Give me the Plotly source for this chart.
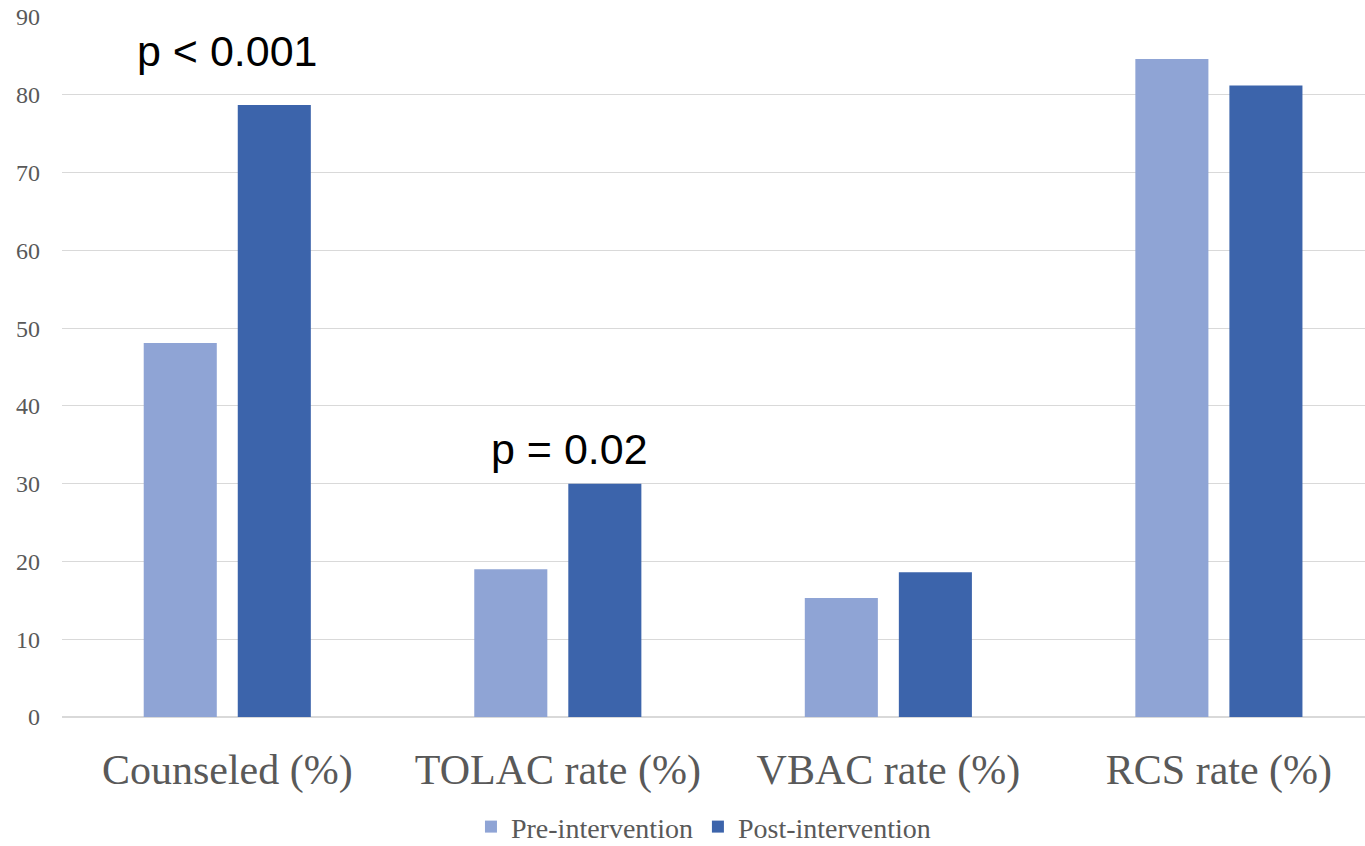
import plotly.graph_objects as go

categories = ["Counseled (%)", "TOLAC rate (%)", "VBAC rate (%)", "RCS rate (%)"]
pre_values = [48.1, 19.0, 15.3, 84.6]
post_values = [78.7, 30.0, 18.6, 81.2]
series_names = ["Pre-intervention", "Post-intervention"]
y_ticks = [0, 10, 20, 30, 40, 50, 60, 70, 80, 90]

fig = go.Figure()
fig.add_trace(go.Bar(x=categories, y=pre_values, name=series_names[0],
                     marker=dict(color="#8FA4D5", line=dict(width=0))))
fig.add_trace(go.Bar(x=categories, y=post_values, name=series_names[1],
                     marker=dict(color="#3C64AB", line=dict(width=0))))

fig.add_annotation(x=categories[0], y=85.6, text="p < 0.001", showarrow=False,
                   font=dict(family="Liberation Sans", size=43, color="#000000"), xshift=0)
fig.add_annotation(x=categories[1], y=34.4, text="p = 0.02", showarrow=False,
                   font=dict(family="Liberation Sans", size=43, color="#000000"), xshift=12)

fig.update_layout(
    width=1365, height=846,
    margin=dict(l=62, r=0, t=17, b=129, autoexpand=False),
    paper_bgcolor="white", plot_bgcolor="white",
    barmode="group", bargap=0.431, bargroupgap=0.223,
    font=dict(family="Liberation Serif", color="#595959"),
    xaxis=dict(tickfont=dict(size=42, color="#595959"), showline=False, ticks="",
               automargin=False, ticklabelstandoff=24, range=[-0.5, 3.442]),
    yaxis=dict(range=[0, 90], tickvals=y_ticks, gridcolor="#D9D9D9", gridwidth=1.3,
               zeroline=True, zerolinecolor="#D9D9D9", zerolinewidth=1.5,
               tickfont=dict(size=24, color="#595959"), ticklabelstandoff=21,
               automargin=False),
    legend=dict(orientation="h", x=0.4923, xanchor="center", y=-0.157, yanchor="middle",
                font=dict(size=28, color="#595959"), traceorder="normal"),
    showlegend=True,
)

fig.write_html("out.html", config={"displayModeBar": False},
               post_script="document.body.style.margin='0';")
